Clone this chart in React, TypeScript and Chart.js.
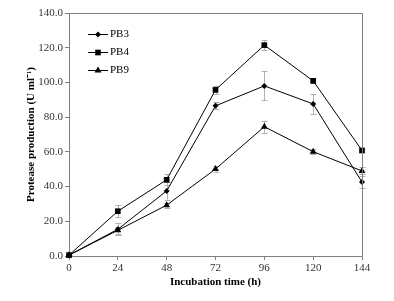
import React, { useEffect, useRef } from "react";
import { Chart, registerables } from "chart.js";

Chart.register(...registerables);

const times = [0, 24, 48, 72, 96, 120, 144];
const seriesNames = ["PB3", "PB4", "PB9"];
const pb3 = [0.5, 15.4, 37.5, 86.5, 98.0, 87.6, 42.6];
const pb4 = [0.5, 25.8, 43.9, 95.7, 121.5, 100.9, 60.8];
const pb9 = [0.5, 14.8, 29.3, 50.1, 74.5, 60.1, 49.0];
const pb3Err = [0.3, 3.5, 5.0, 2.0, 8.3, 5.8, 3.5];
const pb4Err = [0.3, 3.3, 3.2, 2.5, 2.7, 1.5, 1.0];
const pb9Err = [0.3, 2.0, 1.5, 1.5, 3.5, 1.5, 2.0];
const yTicks = [0, 20, 40, 60, 80, 100, 120, 140];
const xTicks = [0, 24, 48, 72, 96, 120, 144];
const xTitle = "Incubation time (h)";
const yTitle = "Protease production (U ml\u207B\u00B9)";

const SERIF = "'Liberation Serif', 'Times New Roman', serif";
const GREY = "#808080";

const errPlugin = {
  id: "errbars",
  beforeDatasetsDraw(chart: any) {
    const ctx = chart.ctx;
    const xs = chart.scales.x;
    const ys = chart.scales.y;
    const errs = [pb3Err, pb4Err, pb9Err];
    ctx.save();
    ctx.strokeStyle = "#b0b0b0";
    ctx.lineWidth = 1;
    chart.data.datasets.forEach((ds: any, i: number) => {
      ds.data.forEach((p: any, j: number) => {
        const e = errs[i][j];
        const x = Math.round(xs.getPixelForValue(p.x)) + 0.5;
        const y1 = ys.getPixelForValue(p.y + e);
        const y2 = ys.getPixelForValue(p.y - e);
        ctx.beginPath();
        ctx.moveTo(x, y1);
        ctx.lineTo(x, y2);
        ctx.moveTo(x - 3, Math.round(y1) + 0.5);
        ctx.lineTo(x + 3, Math.round(y1) + 0.5);
        ctx.moveTo(x - 3, Math.round(y2) + 0.5);
        ctx.lineTo(x + 3, Math.round(y2) + 0.5);
        ctx.stroke();
      });
    });
    ctx.restore();
  },
  afterDraw(chart: any) {
    const ctx = chart.ctx;
    const a = chart.chartArea;
    ctx.save();
    // top & right frame
    ctx.strokeStyle = GREY;
    ctx.lineWidth = 1;
    ctx.beginPath();
    ctx.moveTo(Math.round(a.left) + 0.5, Math.round(a.top) + 0.5);
    ctx.lineTo(Math.round(a.right) + 0.5, Math.round(a.top) + 0.5);
    ctx.lineTo(Math.round(a.right) + 0.5, Math.round(a.bottom) + 0.5);
    ctx.stroke();
    // axis titles
    ctx.fillStyle = "#000";
    ctx.font = `bold 11px ${SERIF}`;
    ctx.textAlign = "center";
    ctx.textBaseline = "middle";
    ctx.fillText(xTitle, (a.left + a.right) / 2, 282);
    ctx.save();
    ctx.translate(31, (a.top + a.bottom) / 2);
    ctx.rotate(-Math.PI / 2);
    ctx.fillText(yTitle, 0, 0);
    ctx.restore();
    // legend
    const styles = ["rectRot", "rect", "triangle"];
    const radii = [3, 4, 4];
    const ys = [34, 52, 70];
    ctx.font = `11px ${SERIF}`;
    ctx.textAlign = "left";
    seriesNames.forEach((n, i) => {
      const y = ys[i] + 0.5;
      ctx.strokeStyle = "#000";
      ctx.lineWidth = 1;
      ctx.beginPath();
      ctx.moveTo(88, y);
      ctx.lineTo(108, y);
      ctx.stroke();
      ctx.fillStyle = "#000";
      (Chart as any).helpers?.drawPoint
        ? (Chart as any).helpers.drawPoint(ctx, { pointStyle: styles[i], radius: radii[i], rotation: 0, borderWidth: 0 }, 98, y)
        : null;
      ctx.fillStyle = "#000";
      ctx.fillText(n, 110, y);
    });
    ctx.restore();
  },
};

function drawMarker(ctx: CanvasRenderingContext2D, style: string, r: number, x: number, y: number) {
  ctx.beginPath();
  if (style === "rectRot") {
    ctx.moveTo(x, y - r);
    ctx.lineTo(x + r, y);
    ctx.lineTo(x, y + r);
    ctx.lineTo(x - r, y);
  } else if (style === "rect") {
    const s = r * Math.SQRT1_2;
    ctx.rect(x - s, y - s, 2 * s, 2 * s);
  } else {
    const h = r * 1.5;
    ctx.moveTo(x, y - r);
    ctx.lineTo(x + r * 0.87, y + r * 0.5);
    ctx.lineTo(x - r * 0.87, y + r * 0.5);
  }
  ctx.closePath();
  ctx.fill();
}

const legendPlugin = {
  id: "legendMarkers",
  afterDraw(chart: any) {
    const ctx = chart.ctx;
    const styles = ["rectRot", "rect", "triangle"];
    const radii = [3, 4, 4];
    const ys = [34, 52, 70];
    ctx.save();
    ctx.fillStyle = "#000";
    styles.forEach((s, i) => drawMarker(ctx, s, radii[i], 98, ys[i] + 0.5));
    ctx.restore();
  },
};

export default function App() {
  const ref = useRef<HTMLCanvasElement>(null);
  useEffect(() => {
    if (!ref.current) return;
    const mk = (label: string, vals: number[], style: string, r: number) => ({
      label,
      data: times.map((t, i) => ({ x: t, y: vals[i] })),
      borderColor: "#000",
      backgroundColor: "#000",
      borderWidth: 1,
      pointStyle: style,
      pointRadius: r,
      pointBorderWidth: 0,
      pointBackgroundColor: "#000",
      tension: 0,
      clip: false,
      fill: false,
    });
    const chart = new Chart(ref.current, {
      type: "line",
      data: {
        datasets: [
          mk(seriesNames[0], pb3, "rectRot", 3),
          mk(seriesNames[1], pb4, "rect", 4),
          mk(seriesNames[2], pb9, "triangle", 4),
        ],
      },
      options: {
        animation: false,
        responsive: false,
        layout: { padding: { top: 13, right: 32, left: 0, bottom: 0 } },
        plugins: { legend: { display: false }, tooltip: { enabled: false } },
        scales: {
          x: {
            type: "linear",
            min: 0,
            max: 144,
            afterBuildTicks: (s: any) => {
              s.ticks = xTicks.map((v) => ({ value: v }));
            },
            afterFit: (s: any) => {
              s.height = 45;
            },
            ticks: {
              color: "#333",
              font: { family: SERIF, size: 11 },
              padding: 2,
              maxRotation: 0,
              autoSkip: false,
            },
            grid: { drawOnChartArea: false, color: GREY, tickLength: 4 },
            border: { color: GREY },
          },
          y: {
            type: "linear",
            min: 0,
            max: 140,
            afterBuildTicks: (s: any) => {
              s.ticks = yTicks.map((v) => ({ value: v }));
            },
            afterFit: (s: any) => {
              s.width = 69;
            },
            ticks: {
              color: "#333",
              font: { family: SERIF, size: 11 },
              padding: 2,
              callback: (v: any) => Number(v).toFixed(1),
            },
            grid: { drawOnChartArea: false, color: GREY, tickLength: 4 },
            border: { color: GREY },
          },
        },
      },
      plugins: [errPlugin, legendPlugin],
    } as any);
    return () => chart.destroy();
  }, []);
  return (
    <div style={{ position: "absolute", left: 0, top: 0, width: 394, height: 301, background: "#fff" }}>
      <canvas ref={ref} width={394} height={301} />
    </div>
  );
}
